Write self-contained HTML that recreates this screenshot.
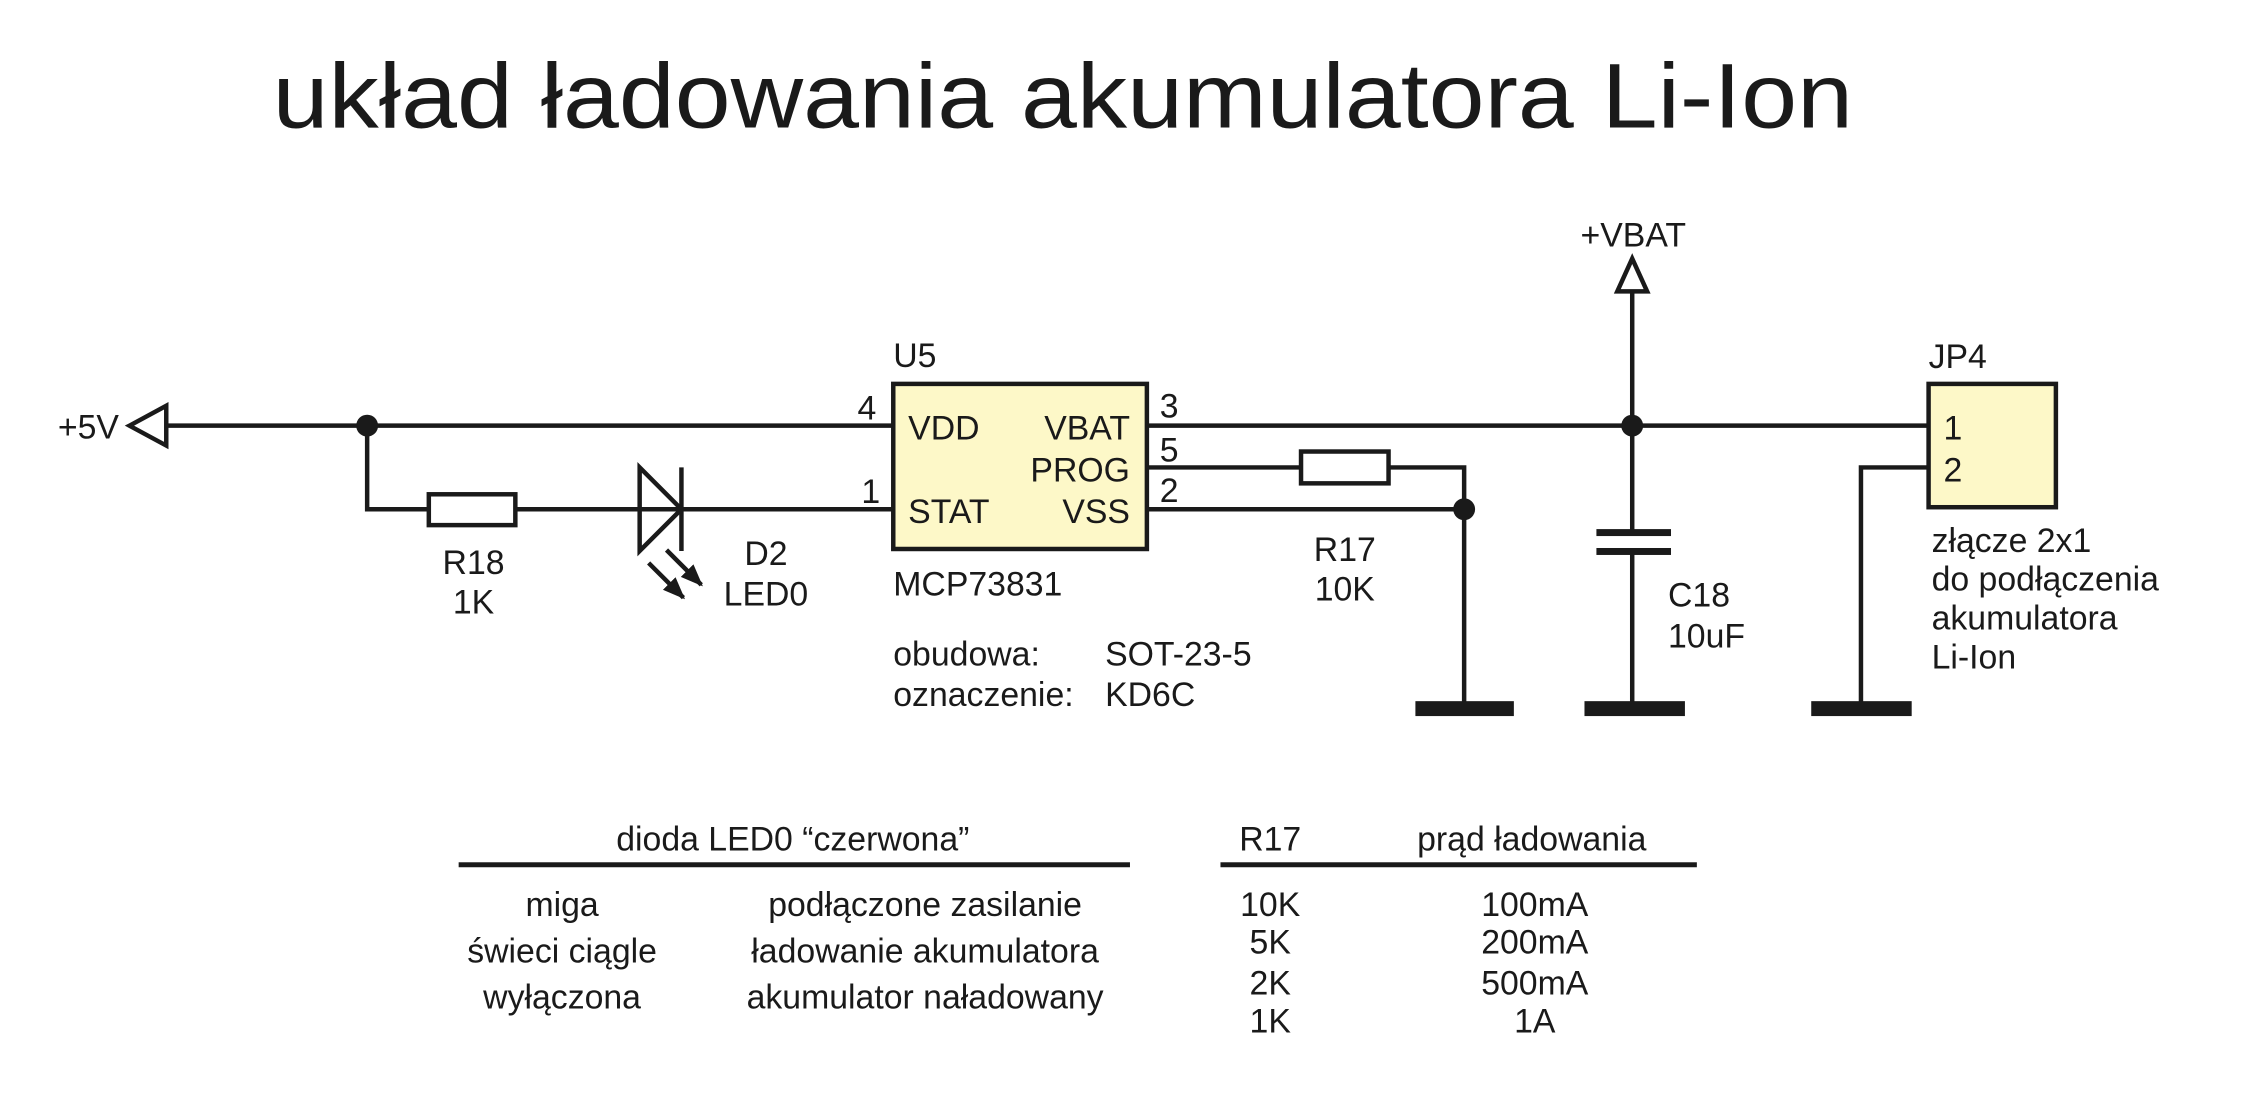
<!DOCTYPE html>
<html><head><meta charset="utf-8"><style>
html,body{margin:0;padding:0;background:#fff}
svg{display:block}
text{font-family:"Liberation Sans",sans-serif;fill:#1a1a1a;dominant-baseline:middle}
.t{font-size:34px}
</style></head><body>
<svg width="2249" height="1094" viewBox="0 0 2261 1100">
<defs>
<marker id="ah" viewBox="0 0 10 10" refX="9" refY="5" markerWidth="5" markerHeight="5" orient="auto">
<path d="M0,1 L10,5 L0,9 z" fill="#1a1a1a"/>
</marker>
</defs>
<text x="274" y="104" font-size="92" textLength="1589" lengthAdjust="spacingAndGlyphs">układ ładowania akumulatora Li-Ion</text>
<g stroke="#1a1a1a" stroke-width="4.5" fill="none">
<polygon points="130,428 167,408 167,448"/>
<line x1="167" y1="428" x2="898" y2="428"/>
<polyline points="369,428 369,512 431,512"/>
<rect x="431" y="497" width="87" height="31" fill="#fff"/>
<line x1="518" y1="512" x2="898" y2="512"/>
<polygon points="643,470 643,554 685,512"/>
<line x1="685" y1="470" x2="685" y2="554"/>
<line x1="670" y1="553" x2="705" y2="588" marker-end="url(#ah)"/>
<line x1="652" y1="566" x2="687" y2="601" marker-end="url(#ah)"/>
<rect x="898" y="386" width="255" height="166" fill="#fdf8c8"/>
<line x1="1153" y1="428" x2="1939" y2="428"/>
<line x1="1153" y1="470" x2="1308" y2="470"/>
<rect x="1308" y="454" width="88" height="32" fill="#fff"/>
<polyline points="1396,470 1472,470 1472,706"/>
<line x1="1153" y1="512" x2="1472" y2="512"/>
<polygon points="1641,260 1626,293 1656,293"/>
<line x1="1641" y1="293" x2="1641" y2="536"/>
<line x1="1641" y1="554" x2="1641" y2="706"/>
<rect x="1939" y="386" width="128" height="124" fill="#fdf8c8"/>
<polyline points="1939,470 1871,470 1871,706"/>
</g>
<g fill="#1a1a1a">
<circle cx="369" cy="428" r="11"/>
<circle cx="1641" cy="428" r="11"/>
<circle cx="1472" cy="512" r="11"/>
<rect x="1605" y="532" width="75" height="7"/>
<rect x="1605" y="551" width="75" height="7"/>
<rect x="1423" y="705" width="99" height="15"/>
<rect x="1593" y="705" width="101" height="15"/>
<rect x="1821" y="705" width="101" height="15"/>
<rect x="461" y="867" width="675" height="5"/>
<rect x="1227" y="867" width="479" height="5"/>
</g>
<g class="t" transform="translate(0,3)">
<text x="58" y="429">+5V</text>
<text x="898" y="357">U5</text>
<text x="862" y="410">4</text>
<text x="866" y="494">1</text>
<text x="1166" y="408">3</text>
<text x="1166" y="452">5</text>
<text x="1166" y="493">2</text>
<text x="913" y="430">VDD</text>
<text x="913" y="514">STAT</text>
<text x="1136" y="430" text-anchor="end">VBAT</text>
<text x="1136" y="472" text-anchor="end">PROG</text>
<text x="1136" y="514" text-anchor="end">VSS</text>
<text x="476" y="565" text-anchor="middle">R18</text>
<text x="476" y="605" text-anchor="middle">1K</text>
<text x="770" y="556" text-anchor="middle">D2</text>
<text x="770" y="597" text-anchor="middle">LED0</text>
<text x="898" y="587">MCP73831</text>
<text x="898" y="657">obudowa:</text>
<text x="898" y="698">oznaczenie:</text>
<text x="1111" y="657">SOT-23-5</text>
<text x="1111" y="698">KD6C</text>
<text x="1352" y="552" text-anchor="middle">R17</text>
<text x="1352" y="592" text-anchor="middle">10K</text>
<text x="1677" y="598">C18</text>
<text x="1677" y="639">10uF</text>
<text x="1589" y="236">+VBAT</text>
<text x="1939" y="358">JP4</text>
<text x="1954" y="430">1</text>
<text x="1954" y="472">2</text>
<text x="1942" y="543">złącze 2x1</text>
<text x="1942" y="582">do podłączenia</text>
<text x="1942" y="621">akumulatora</text>
<text x="1942" y="660">Li-Ion</text>
<text x="797" y="843" text-anchor="middle">dioda LED0 “czerwona”</text>
<text x="565" y="909" text-anchor="middle">miga</text>
<text x="565" y="956" text-anchor="middle">świeci ciągle</text>
<text x="565" y="1002" text-anchor="middle">wyłączona</text>
<text x="930" y="909" text-anchor="middle">podłączone zasilanie</text>
<text x="930" y="956" text-anchor="middle">ładowanie akumulatora</text>
<text x="930" y="1002" text-anchor="middle">akumulator naładowany</text>
<text x="1277" y="843" text-anchor="middle">R17</text>
<text x="1540" y="843" text-anchor="middle">prąd ładowania</text>
<text x="1277" y="909" text-anchor="middle">10K</text>
<text x="1277" y="947" text-anchor="middle">5K</text>
<text x="1277" y="988" text-anchor="middle">2K</text>
<text x="1277" y="1026" text-anchor="middle">1K</text>
<text x="1543" y="909" text-anchor="middle">100mA</text>
<text x="1543" y="947" text-anchor="middle">200mA</text>
<text x="1543" y="988" text-anchor="middle">500mA</text>
<text x="1543" y="1026" text-anchor="middle">1A</text>
</g>
</svg>
</body></html>
